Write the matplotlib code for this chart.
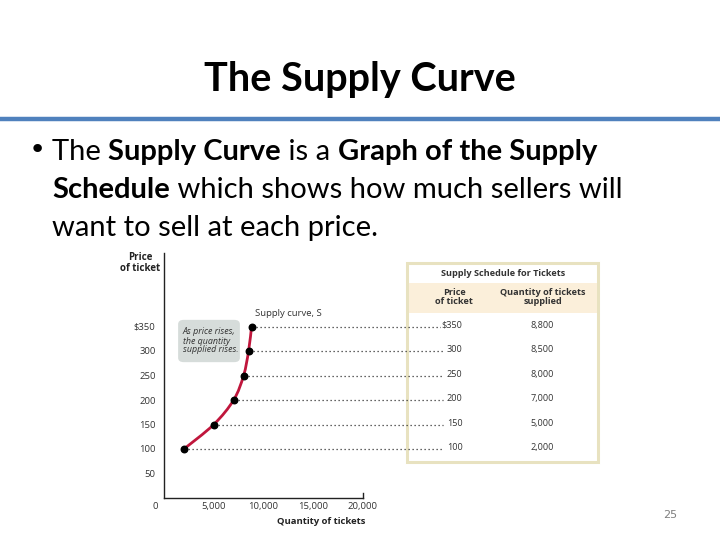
import matplotlib
matplotlib.use("Agg")
import matplotlib.pyplot as plt
from matplotlib.path import Path
from matplotlib.patches import PathPatch, FancyBboxPatch, Rectangle
import numpy as np

# ---- data ----
prices = [100, 150, 200, 250, 300, 350]
quantities = [2000, 5000, 7000, 8000, 8500, 8800]
price_labels = ["100", "150", "200", "250", "300", "$350"]
qty_labels = ["2,000", "5,000", "7,000", "8,000", "8,500", "8,800"]
x_ticks = [0, 5000, 10000, 15000, 20000]
x_tick_labels = ["0", "5,000", "10,000", "15,000", "20,000"]
y_ticks = [50, 100, 150, 200, 250, 300, 350]
y_tick_labels = ["50", "100", "150", "200", "250", "300", "$350"]

W, H = 720, 540
fig = plt.figure(figsize=(7.2, 5.4), dpi=100)
fig.patch.set_facecolor("white")

def fx(px):
    return px / W

def fy(py):
    return 1 - py / H

SANS = "Lato"
SMALL = "Open Sans"

# ---- title ----
fig.text(fx(360), fy(80), "The Supply Curve", ha="center", va="center",
         fontsize=28.5, fontweight="bold", family=SANS, color="black")
fig.add_artist(plt.Line2D([0, 1], [fy(119), fy(119)], color="#4F81BD", lw=3.2,
                          transform=fig.transFigure))

# ---- bullet text with mixed weights ----
renderer = fig.canvas.get_renderer()
BODY = 21

def draw_runs(x0, ybase, runs):
    x = x0
    for txt, bold in runs:
        t = fig.text(fx(x), fy(ybase), txt, ha="left", va="baseline",
                     fontsize=BODY, family=SANS,
                     fontweight="bold" if bold else "normal", color="black")
        bb = t.get_window_extent(renderer)
        x += bb.width
    return x

fig.text(fx(29), fy(158), "\u2022", ha="left", va="baseline", fontsize=BODY,
         family="DejaVu Sans", color="black")
draw_runs(52, 160, [("The\u00a0", False), ("Supply Curve", True), ("\u00a0is a\u00a0", False),
                    ("Graph of the Supply", True)])
draw_runs(52, 198, [("Schedule", True), ("\u00a0which shows how much sellers will", False)])
draw_runs(52, 236, [("want to sell at each price.", False)])

fig.text(fx(670), fy(515), "25", ha="center", va="center", fontsize=8,
         family="DejaVu Sans", color="#7f7f7f")

# ---- axes ----
x0px, x1px = 164, 363
y0px, y1px = 498, 253
ax = fig.add_axes([fx(x0px), fy(y0px), (x1px - x0px) / W, (y0px - y1px) / H])
ax.set_xlim(0, 20000)
ax.set_ylim(0, 500)
ax.patch.set_alpha(0)
for s in ["top", "right"]:
    ax.spines[s].set_visible(False)
for s in ["left", "bottom"]:
    ax.spines[s].set_color("#222222")
    ax.spines[s].set_linewidth(1.0)
ax.set_xticks(x_ticks)
ax.set_xticklabels(x_tick_labels)
ax.set_yticks(y_ticks)
ax.set_yticklabels(y_tick_labels)
ax.tick_params(axis="y", length=0, labelsize=6.8, colors="#333333", pad=6)
ax.tick_params(axis="x", length=0, labelsize=6.8, colors="#333333", pad=3)
for lab in ax.get_xticklabels() + ax.get_yticklabels():
    lab.set_family(SMALL)
ax.xaxis.get_majorticklabels()[0].set_visible(False)
ax.text(-600, -18, "0", ha="right", va="center", fontsize=6.8, family=SMALL,
        color="#333333", clip_on=False)
ax.plot([20000, 20000], [0, 10], color="#222222", lw=1.0, clip_on=False)

ax.text(-2400, 503, "Price\nof ticket", ha="center", va="top", fontsize=7,
        fontweight="bold", family=SMALL, linespacing=1.0, color="#222222",
        clip_on=False)
ax.text(15800, -47, "Quantity of tickets", ha="center", va="center", fontsize=6.8,
        fontweight="bold", family=SMALL, color="#222222", clip_on=False)

# dotted guide lines into the table
for q, p in zip(quantities, prices):
    ax.plot([q, 28000], [p, p], ls=(0, (1, 2.2)), color="#333333", lw=0.9,
            clip_on=False, zorder=2)

# smooth curve via Catmull-Rom -> cubic Bezier
pts = np.column_stack([quantities, prices]).astype(float)
verts = [tuple(pts[0])]
codes = [Path.MOVETO]
n = len(pts)
for i in range(n - 1):
    p0 = pts[max(i - 1, 0)]
    p1 = pts[i]
    p2 = pts[i + 1]
    p3 = pts[min(i + 2, n - 1)]
    c1 = p1 + (p2 - p0) / 6.0
    c2 = p2 - (p3 - p1) / 6.0
    verts += [tuple(c1), tuple(c2), tuple(p2)]
    codes += [Path.CURVE4] * 3
ax.add_patch(PathPatch(Path(verts, codes), fill=False, edgecolor="#C0163C",
                       lw=2.0, zorder=3, capstyle="round"))
ax.scatter(quantities, prices, s=22, color="black", zorder=4)

ax.text(9100, 376, "Supply curve, S", ha="left", va="center", fontsize=6.8,
        family=SMALL, color="#333333")

# annotation box
box = FancyBboxPatch((fx(181), fy(360)), fx(56), (360 - 322) / H,
                     boxstyle="round,pad=0.004,rounding_size=0.008",
                     transform=fig.transFigure, facecolor="#D6DCDA",
                     edgecolor="none", zorder=1)
fig.add_artist(box)
fig.text(fx(183), fy(341), "As price rises,\nthe quantity\nsupplied rises.",
         ha="left", va="center", fontsize=6.4, style="italic", family=SMALL,
         color="#333333", linespacing=1.0)

# ---- table ----
tx0, tx1, ty0, ty1 = 407, 598, 263, 462
fig.add_artist(Rectangle((fx(tx0), fy(ty1)), fx(tx1 - tx0), (ty1 - ty0) / H,
                         transform=fig.transFigure, facecolor="white",
                         edgecolor="#E8E2C0", lw=2.2, zorder=0))
fig.add_artist(Rectangle((fx(tx0 + 1.5), fy(313)), fx(tx1 - tx0 - 3), (313 - 283) / H,
                         transform=fig.transFigure, facecolor="#FBEFDA",
                         edgecolor="none", zorder=0))
fig.text(fx(503), fy(274), "Supply Schedule for Tickets", ha="center", va="center",
         fontsize=6.6, fontweight="bold", family=SMALL, color="#333333")
fig.text(fx(454), fy(297), "Price\nof ticket", ha="center", va="center",
         fontsize=6.6, fontweight="bold", family=SMALL, color="#333333", linespacing=1.0)
fig.text(fx(543), fy(297), "Quantity of tickets\nsupplied", ha="center", va="center",
         fontsize=6.6, fontweight="bold", family=SMALL, color="#333333", linespacing=1.0)

for p, pl, ql in zip(prices, price_labels, qty_labels):
    ax.text(30000, p + 3, pl, ha="right", va="center", fontsize=6.6, family=SMALL,
            color="#333333", clip_on=False, bbox=dict(facecolor="white", edgecolor="none", pad=0.3))
    ax.text(38000, p + 3, ql, ha="center", va="center", fontsize=6.6, family=SMALL,
            color="#333333", clip_on=False)

fig.savefig("out.png", dpi=100)
